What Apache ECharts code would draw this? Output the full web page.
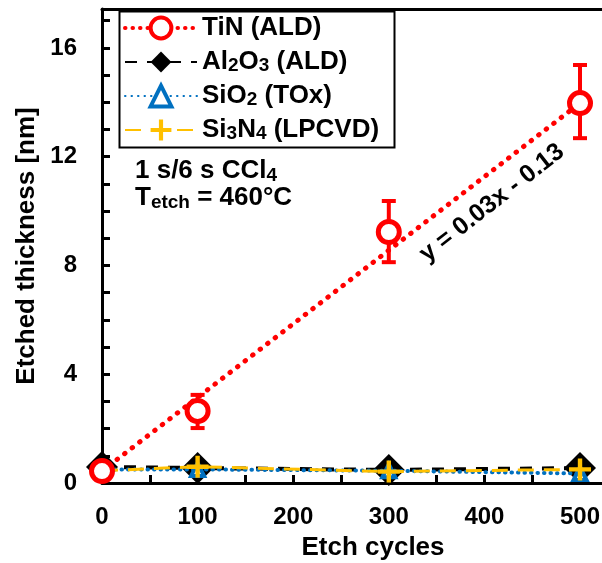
<!DOCTYPE html>
<html lang="en">
<head>
<meta charset="UTF-8">
<title>Etched thickness vs etch cycles</title>
<script src="https://cdn.jsdelivr.net/npm/echarts@6/dist/echarts.min.js"></script>
<style>html,body{margin:0;padding:0;background:#fff}#chart{width:602px;height:563px}</style>
</head>
<body>
<div id="chart"></div>
<script>
// data
const cycles = [0, 100, 300, 500];
const tinThk = [0.44, 2.65, 9.23, 13.97];
const tinLow = [0.3, 2.02, 8.12, 12.68];
const tinHigh = [0.55, 3.24, 10.37, 15.37];
const alThk = [0.59, 0.55, 0.48, 0.55];
const sioThk = [0.5, 0.5, 0.45, 0.35];
const sinThk = [0.45, 0.6, 0.42, 0.5];
const fitCycles = [0, 500];
const fitThk = [0.44, 13.97];
const names = ['TiN (ALD)', 'Al2O3 (ALD)', 'SiO2 (TOx)', 'Si3N4 (LPCVD)'];

const font = "'Liberation Sans', Arial, sans-serif";
const plus = 'path://M-1,-5L1,-5L1,-1L5,-1L5,1L1,1L1,5L-1,5L-1,1L-5,1L-5,-1L-1,-1Z';
const pts = ys => cycles.map((c, i) => [c, ys[i]]);
const redDots = {color: '#FF0000', width: 4, type: [0.5, 7], cap: 'round', opacity: 1};

let chart = echarts.init(document.getElementById('chart'));
let option = {
    animation: false,
    grid: {left: 102, right: 0, top: 9, bottom: 80, outerBoundsMode: 'none'},
    legend: {
        orient: 'vertical',
        left: 123, top: 15,
        padding: 0,
        itemWidth: 72, itemHeight: 26, itemGap: 8,
        data: [
            {name: names[0], lineStyle: redDots, itemStyle: {borderWidth: 4}},
            names[1],
            {name: names[2], itemStyle: {borderWidth: 4}},
            names[3]
        ],
        formatter: name => '{n|' + name.replace(/(\d)/g, '}{s|$1}{n|') + '}',
        textStyle: {
            rich: {
                n: {fontSize: 26, fontWeight: 'bold', fontFamily: font, color: '#000', lineHeight: 26},
                s: {fontSize: 19, fontWeight: 'bold', fontFamily: font, color: '#000', lineHeight: 12, verticalAlign: 'bottom'}
            }
        }
    },
    graphic: [
        {type: 'rect', left: 117, top: 9, z: 10, shape: {width: 275, height: 136},
         style: {fill: 'none', stroke: '#000', lineWidth: 2}},
        {type: 'text', left: 135, top: 158, style: {
            text: '{n|1 s/6 s CCl}{s|4}', rich: {
                n: {fontSize: 26, fontWeight: 'bold', fontFamily: font, lineHeight: 28},
                s: {fontSize: 19, fontWeight: 'bold', fontFamily: font, lineHeight: 12, verticalAlign: 'bottom'}}}},
        {type: 'text', left: 135, top: 185, style: {
            text: '{n|T}{s|etch}{n| = 460°C}', rich: {
                n: {fontSize: 26, fontWeight: 'bold', fontFamily: font, lineHeight: 28},
                s: {fontSize: 19, fontWeight: 'bold', fontFamily: font, lineHeight: 12, verticalAlign: 'bottom'}}}},
        {type: 'text', x: 492, y: 203, rotation: 38 * Math.PI / 180, style: {
            text: 'y = 0.03x - 0.13', fontSize: 25, fontWeight: 'bold', fontFamily: font,
            align: 'center', verticalAlign: 'middle', fill: '#000'}}
    ],
    xAxis: [{
        type: 'value', min: 0, max: 523, interval: 50,
        name: 'Etch cycles', nameLocation: 'middle', nameGap: 52,
        nameTextStyle: {fontSize: 26, fontWeight: 'bold', fontFamily: font, color: '#000', padding: [0, 0, 0, 42]},
        splitLine: {show: false},
        axisLine: {lineStyle: {color: '#000', width: 3}},
        axisTick: {inside: true, length: 8, lineStyle: {width: 3, color: '#000'}},
        axisLabel: {margin: 22, fontSize: 24, fontWeight: 'bold', fontFamily: font, color: '#000',
            showMaxLabel: false, formatter: v => v % 100 === 0 ? String(v) : ''}
    }, {
        type: 'value', position: 'top', min: 0, max: 523,
        axisLine: {show: true, lineStyle: {color: '#000', width: 3}},
        axisTick: {show: false}, axisLabel: {show: false}, splitLine: {show: false}
    }],
    yAxis: {
        type: 'value', min: 0, max: 17.43, interval: 1,
        name: 'Etched thickness [nm]', nameLocation: 'middle', nameGap: 62,
        nameTextStyle: {fontSize: 26, fontWeight: 'bold', fontFamily: font, color: '#000'},
        splitLine: {show: false},
        axisLine: {lineStyle: {color: '#000', width: 3}},
        axisTick: {inside: true, length: 8, lineStyle: {width: 3, color: '#000'}},
        axisLabel: {margin: 25, fontSize: 24, fontWeight: 'bold', fontFamily: font, color: '#000',
            showMaxLabel: false, formatter: v => v % 4 === 0 ? String(v) : ''}
    },
    series: [
        {
            name: names[1], type: 'line', data: pts(alThk), z: 2,
            symbol: 'diamond', symbolSize: 32,
            itemStyle: {color: '#000'},
            lineStyle: {color: '#000', width: 4, type: [12, 10]}
        },
        {
            name: names[2], type: 'line', data: pts(sioThk), z: 3,
            symbol: 'triangle', symbolSize: 13,
            itemStyle: {color: '#fff', borderColor: '#0070C0', borderWidth: 4},
            lineStyle: {color: '#0070C0', width: 4, type: [0.5, 6], cap: 'round'}
        },
        {
            name: names[3], type: 'line', data: pts(sinThk), z: 4,
            symbol: plus, symbolSize: 22,
            itemStyle: {color: '#FFC000'},
            lineStyle: {color: '#FFC000', width: 3, type: [16, 10]}
        },
        {
            name: 'fit', type: 'line', z: 5, symbol: 'none', silent: true,
            data: fitCycles.map((c, i) => [c, fitThk[i]]),
            lineStyle: {color: '#FF0000', width: 5, type: [0.5, 9], cap: 'round'}
        },
        {
            name: 'TiN error', type: 'custom', z: 6, silent: true,
            data: cycles.map((c, i) => [c, tinLow[i], tinHigh[i]]),
            renderItem: function (params, api) {
                let lo = api.coord([api.value(0), api.value(1)]);
                let hi = api.coord([api.value(0), api.value(2)]);
                let w = 7, st = {stroke: '#FF0000', lineWidth: 4};
                return {type: 'group', children: [
                    {type: 'line', shape: {x1: lo[0], y1: lo[1], x2: hi[0], y2: hi[1]}, style: st},
                    {type: 'line', shape: {x1: lo[0] - w, y1: lo[1], x2: lo[0] + w, y2: lo[1]}, style: st},
                    {type: 'line', shape: {x1: hi[0] - w, y1: hi[1], x2: hi[0] + w, y2: hi[1]}, style: st}
                ]};
            }
        },
        {
            name: names[0], type: 'line', data: pts(tinThk), z: 7,
            symbol: 'circle', symbolSize: 21,
            itemStyle: {color: '#fff', borderColor: '#FF0000', borderWidth: 5},
            lineStyle: {color: '#FF0000', width: 0, opacity: 0}
        }
    ]
};
chart.setOption(option);
</script>
</body>
</html>
